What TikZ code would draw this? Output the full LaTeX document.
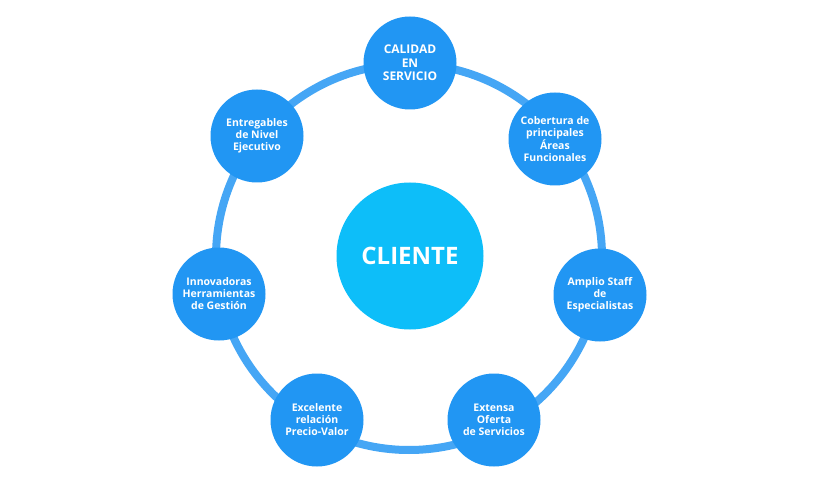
\documentclass[tikz,border=0pt]{standalone}
\usepackage{fontspec}
\setmainfont{Open Sans}
\definecolor{ringblue}{HTML}{45A6F5}
\definecolor{outerblue}{HTML}{2196F3}
\definecolor{centerblue}{HTML}{0DBEF9}
\tikzset{
  ringline/.style={draw=ringblue, line width=8pt},
  outer/.style={circle, fill=outerblue, minimum size=93pt, inner sep=0pt, text=white, align=center,
    font=\bfseries\fontsize{10.5}{12}\selectfont},
  center/.style={circle, fill=centerblue, minimum size=147pt, inner sep=0pt, text=white,
    font=\bfseries\fontsize{24}{26}\selectfont}
}
\begin{document}
\begin{tikzpicture}[x=1pt,y=-1pt]
\useasboundingbox (0,0) rectangle (820,500);
\fill[white] (0,0) rectangle (820,500);
\coordinate (o) at (409,257);
\draw[ringline] (o) circle[radius=193];
\node[center] (cli) at (410,256) {CLIENTE};
\node[outer, font=\bfseries\fontsize{12}{13.5}\selectfont] (cal) at (410,63) {CALIDAD\\EN\\SERVICIO};
\node[outer] (cob) at (555,139) {Cobertura de\\principales\\Áreas\\Funcionales};
\node[outer] (amp) at (600,295) {Amplio Staff\\de\\Especialistas};
\node[outer] (ext) at (494,420) {Extensa\\Oferta\\de Servicios};
\node[outer] (exc) at (317,420) {Excelente\\relación\\Precio-Valor};
\node[outer] (inn) at (219,294) {Innovadoras\\Herramientas\\de Gestión};
\node[outer] (ent) at (257,136) {Entregables\\de Nivel\\Ejecutivo};
\end{tikzpicture}
\end{document}
